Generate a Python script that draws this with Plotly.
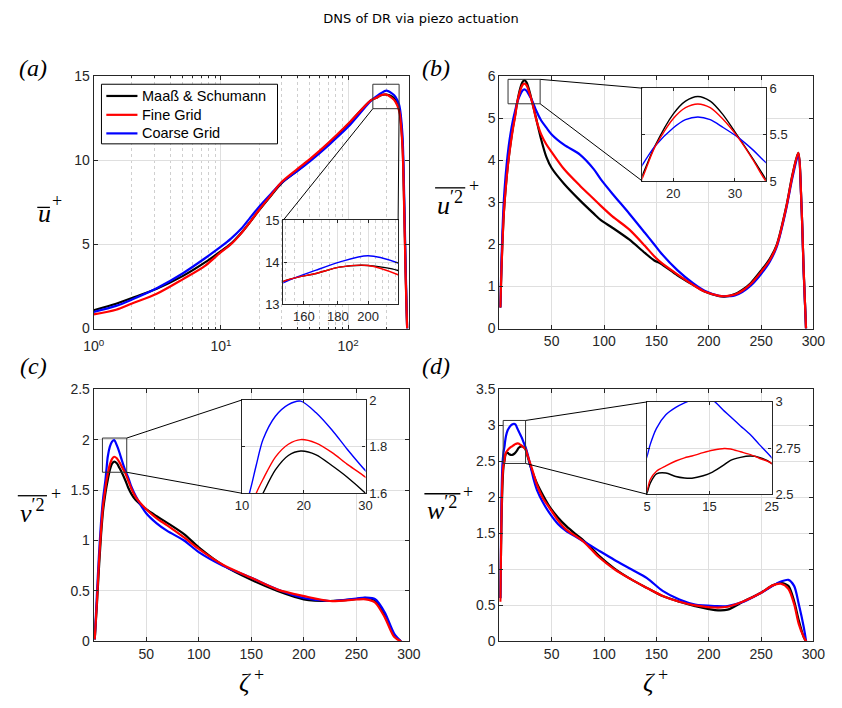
import math
import plotly.graph_objects as go

W, H = 842, 708

# ---------------- data ----------------
series_names = ["Maaß & Schumann", "Fine Grid", "Coarse Grid"]
series_colors = ["#000000", "#ff0000", "#0000ff"]

# (a) mean streamwise velocity u+ vs zeta+
zeta_a = [1, 1.5, 2, 3.13, 5, 7.55, 10, 12, 14.5, 17, 20, 25, 30, 40, 50, 70, 100, 150, 167, 181, 200,
          222, 235, 252, 267, 276, 283, 288, 291]
u_black = [1.09, 1.48, 1.82, 2.37, 3.12, 3.95, 4.6, 5.05, 5.7, 6.35, 7.05, 7.95, 8.65, 9.4, 10.0, 11.0,
           12.15, 13.56, 13.73, 13.88, 13.92, 13.8, 13.6, 13.06, 11.1, 7.25, 3.4, 1.2, 0]
u_red = [0.85, 1.12, 1.49, 2.07, 2.93, 3.75, 4.55, 5.02, 5.68, 6.35, 7.07, 7.98, 8.72, 9.5, 10.08, 11.05,
         12.18, 13.56, 13.73, 13.88, 13.92, 13.7, 13.5, 12.95, 10.9, 7.0, 3.2, 1.1, 0]
u_blue = [0.99, 1.35, 1.73, 2.4, 3.28, 4.2, 4.87, 5.35, 5.95, 6.6, 7.25, 8.05, 8.68, 9.38, 9.95, 10.9,
          12.0, 13.53, 13.81, 14.0, 14.15, 13.98, 13.8, 13.3, 11.6, 7.8, 3.8, 1.4, 0]

# (b) u'^2+
zeta_b = [1, 2, 3, 4, 5, 7, 9, 11, 13, 15, 17, 20, 22, 24, 26, 28, 30.5, 33, 35, 40, 45, 50, 62, 77, 90,
          97, 108, 124, 139, 148, 154, 170, 185, 196, 210, 215, 225, 232, 240, 250, 258, 265, 274, 280,
          285.5, 288.6, 290.7, 292.9]
uu_black = [0.5, 1.35, 2.05, 2.6, 3.0, 3.6, 4.07, 4.45, 4.78, 5.06, 5.37, 5.72, 5.86, 5.91, 5.86, 5.72,
            5.48, 5.23, 5.02, 4.5, 4.08, 3.82, 3.44, 3.05, 2.74, 2.58, 2.40, 2.12, 1.8, 1.62, 1.55, 1.27,
            1.04, 0.88, 0.77, 0.76, 0.82, 0.92, 1.08, 1.38, 1.65, 2.0, 2.9, 3.67, 4.18, 2.9, 1.35, 0]
uu_red = [0.5, 1.35, 2.0, 2.58, 2.98, 3.58, 4.05, 4.42, 4.75, 5.03, 5.36, 5.67, 5.79, 5.83, 5.79, 5.67,
          5.47, 5.22, 5.0, 4.62, 4.38, 4.2, 3.79, 3.40, 3.09, 2.92, 2.67, 2.36, 1.97, 1.72, 1.58, 1.29,
          1.04, 0.88, 0.78, 0.77, 0.81, 0.9, 1.06, 1.35, 1.62, 1.98, 2.88, 3.65, 4.18, 2.9, 1.35, 0]
uu_blue = [0.5, 1.55, 2.3, 2.9, 3.3, 3.9, 4.35, 4.68, 4.95, 5.17, 5.37, 5.57, 5.66, 5.69, 5.66, 5.58,
           5.47, 5.33, 5.2, 4.95, 4.78, 4.62, 4.37, 4.14, 3.8, 3.55, 3.21, 2.74, 2.28, 2.0, 1.81, 1.39,
           1.08, 0.9, 0.78, 0.77, 0.79, 0.87, 1.02, 1.3, 1.58, 1.95, 2.85, 3.6, 4.12, 2.9, 1.3, 0]

# (c) v'^2+
zeta_c = [1, 3, 5, 7, 9, 11.2, 12.3, 13.4, 15.4, 17.5, 19.5, 22, 24.6, 27, 30, 33, 36, 40, 50, 60, 70,
          86, 100, 123, 150, 175, 200, 225, 250, 259, 268, 277, 286, 292.5]
vv_black = [0.02, 0.35, 0.72, 1.05, 1.3, 1.47, 1.54, 1.6, 1.70, 1.762, 1.781, 1.765, 1.718, 1.67, 1.60,
            1.52, 1.46, 1.40, 1.31, 1.24, 1.175, 1.063, 0.933, 0.756, 0.61, 0.50, 0.417, 0.40, 0.42,
            0.43, 0.405, 0.265, 0.06, 0]
vv_red = [0.02, 0.38, 0.78, 1.1, 1.35, 1.52, 1.6, 1.66, 1.755, 1.81, 1.83, 1.815, 1.774, 1.725, 1.669,
          1.59, 1.51, 1.43, 1.31, 1.22, 1.15, 1.03, 0.917, 0.76, 0.63, 0.513, 0.449, 0.40, 0.415, 0.417,
          0.385, 0.24, 0.045, 0]
vv_blue = [0.02, 0.45, 0.85, 1.18, 1.42, 1.6, 1.72, 1.83, 1.93, 1.98, 1.995, 1.945, 1.87, 1.79, 1.697,
           1.62, 1.53, 1.44, 1.27, 1.17, 1.095, 1.0, 0.885, 0.75, 0.63, 0.515, 0.43, 0.40, 0.425, 0.433,
           0.417, 0.288, 0.078, 0]

# (d) w'^2+
zeta_d = [1, 2, 3, 4, 5, 5.5, 6.5, 8, 9.6, 11, 12.2, 14, 15.5, 17.4, 18.4, 20, 21.6, 23, 25, 27, 30, 33,
          36, 42, 48, 56, 64, 72, 79, 87, 95, 110, 126, 141, 156, 172, 187, 206, 218, 234, 250, 261,
          269, 276, 281.5, 286, 290.7, 293]
ww_black = [0.6, 1.6, 2.15, 2.42, 2.508, 2.56, 2.61, 2.615, 2.596, 2.588, 2.587, 2.6, 2.62, 2.66, 2.684,
            2.70, 2.707, 2.70, 2.667, 2.57, 2.42, 2.3, 2.19, 2.02, 1.87, 1.72, 1.60, 1.5, 1.42, 1.31,
            1.19, 1.01, 0.86, 0.742, 0.628, 0.55, 0.49, 0.434, 0.44, 0.56, 0.674, 0.777, 0.81, 0.77,
            0.56, 0.29, 0.06, 0]
ww_red = [0.55, 1.65, 2.25, 2.45, 2.522, 2.58, 2.625, 2.654, 2.68, 2.697, 2.707, 2.725, 2.738, 2.748,
          2.745, 2.73, 2.715, 2.695, 2.667, 2.58, 2.45, 2.31, 2.17, 1.98, 1.85, 1.68, 1.55, 1.47, 1.40,
          1.29, 1.17, 1.0, 0.86, 0.74, 0.63, 0.55, 0.50, 0.47, 0.48, 0.56, 0.674, 0.777, 0.80, 0.73,
          0.52, 0.24, 0.06, 0]
ww_blue = [0.6, 1.9, 2.45, 2.62, 2.707, 2.77, 2.857, 2.93, 2.97, 2.995, 3.01, 3.02, 3.01, 2.95, 2.919,
           2.87, 2.822, 2.77, 2.698, 2.6, 2.42, 2.24, 2.10, 1.92, 1.78, 1.63, 1.53, 1.46, 1.40, 1.33,
           1.26, 1.13, 1.0, 0.877, 0.70, 0.58, 0.51, 0.49, 0.49, 0.555, 0.674, 0.77, 0.83, 0.854, 0.77,
           0.515, 0.20, 0]

# tick labels
log_tickvals = [1, 10, 100]
log_ticktext = ["10<sup>0</sup>", "10<sup>1</sup>", "10<sup>2</sup>"]
lin_tickvals = [50, 100, 150, 200, 250, 300]

title_text = "DNS of DR via piezo actuation"

# ---------------- helpers ----------------
def px(x):
    return x / W

def py(y):
    return 1 - y / H

AX = "#262626"
GRID = "#dfdfdf"
MINORGRID = "#cfcfcf"
SANS = "Liberation Sans, Arial, sans-serif"
TICKFONT = dict(family=SANS, size=14, color=AX)
INSETFONT = dict(family=SANS, size=13, color=AX)

fig = go.Figure()

panels = [
    ("x", "y", zeta_a, [u_black, u_red, u_blue]),
    ("x2", "y2", zeta_b, [uu_black, uu_red, uu_blue]),
    ("x3", "y3", zeta_c, [vv_black, vv_red, vv_blue]),
    ("x4", "y4", zeta_d, [ww_black, ww_red, ww_blue]),
]
insets = ["x5", "x6", "x7", "x8"]
draw_order = [0, 2, 1]  # black, blue, red on top

for p, (xa, ya, zz, ys) in enumerate(panels):
    for k in draw_order:
        fig.add_trace(go.Scatter(
            x=zz, y=ys[k], xaxis=xa, yaxis=ya, mode="lines",
            line=dict(color=series_colors[k], width=2.2, shape="spline", smoothing=0.8),
            name=series_names[k], legendgroup=series_names[k],
            showlegend=False, hoverinfo="skip"))
    ix = insets[p]
    iy = "y" + ix[1:]
    for k in draw_order:
        fig.add_trace(go.Scatter(
            x=zz, y=ys[k], xaxis=ix, yaxis=iy, mode="lines",
            line=dict(color=series_colors[k], width=1.4, shape="spline", smoothing=0.8),
            name=series_names[k], showlegend=False, hoverinfo="skip"))

def main_axis(domain, **kw):
    d = dict(domain=domain, showline=True, linecolor=AX, linewidth=1, mirror="allticks",
             ticks="inside", ticklen=4, tickcolor=AX, showgrid=True, gridcolor=GRID, gridwidth=1,
             zeroline=False, tickfont=TICKFONT, fixedrange=True)
    d.update(kw)
    return d

def inset_axis(domain, anchor, **kw):
    d = dict(domain=domain, anchor=anchor, showline=True, linecolor=AX, linewidth=1.3,
             mirror="allticks", ticks="inside", ticklen=3, tickcolor=AX, showgrid=True,
             gridcolor=GRID, gridwidth=1, zeroline=False, tickfont=INSETFONT, fixedrange=True)
    d.update(kw)
    return d

xa_dom = [px(85), px(409)]
xb_dom = [px(502), px(825)]
top_dom = [py(328), py(70)]
bot_dom = [py(648), py(390)]

minor_log = [2, 3, 4, 5, 6, 7, 8, 9, 20, 30, 40, 50, 60, 70, 80, 90, 200]

fig.update_layout(
    width=W, height=H, autosize=False,
    margin=dict(l=0, r=0, t=0, b=0),
    paper_bgcolor="white", plot_bgcolor="white",
    title=dict(text=title_text, x=0.5, xanchor="center", y=py(18), yanchor="middle",
               font=dict(family="DejaVu Sans, sans-serif", size=13, color="#000000")),
    showlegend=False,
    xaxis=main_axis(xa_dom, anchor="y", type="log", range=[0, math.log10(300)],
                    tickvals=log_tickvals, ticktext=log_ticktext, ticklabelstandoff=5,
                    minor=dict(tickvals=minor_log, showgrid=True, gridcolor=MINORGRID,
                               griddash="dot", ticks="inside", ticklen=2, tickcolor=AX)),
    yaxis=main_axis(top_dom, anchor="x", range=[0, 15], tickvals=[0, 5, 10, 15]),
    xaxis2=main_axis(xb_dom, anchor="y2", range=[0, 300], tickvals=lin_tickvals),
    yaxis2=main_axis(top_dom, anchor="x2", range=[0, 6], tickvals=[0, 1, 2, 3, 4, 5, 6]),
    xaxis3=main_axis(xa_dom, anchor="y3", range=[0, 300], tickvals=lin_tickvals),
    yaxis3=main_axis(bot_dom, anchor="x3", range=[0, 2.5],
                     tickvals=[0, 0.5, 1, 1.5, 2, 2.5], ticktext=["0", "0.5", "1", "1.5", "2", "2.5"]),
    xaxis4=main_axis(xb_dom, anchor="y4", range=[0, 300], tickvals=lin_tickvals),
    yaxis4=main_axis(bot_dom, anchor="x4", range=[0, 3.5],
                     tickvals=[0, 0.5, 1, 1.5, 2, 2.5, 3, 3.5],
                     ticktext=["0", "0.5", "1", "1.5", "2", "2.5", "3", "3.5"]),
    # insets
    xaxis5=inset_axis([px(280), px(398)], "y5", type="log",
                      range=[math.log10(149), math.log10(222)], tickvals=[160, 180, 200],
                      ticktext=["160", "180", "200"],
                      minor=dict(tickvals=[150, 155, 165, 170, 175, 185, 190, 195, 205, 210, 215, 220],
                                 showgrid=True, gridcolor=MINORGRID, griddash="dot")),
    yaxis5=inset_axis([py(303), py(217)], "x5", range=[13, 15], tickvals=[13, 14, 15]),
    xaxis6=inset_axis([px(649), px(776)], "y6", range=[15, 35], tickvals=[20, 30]),
    yaxis6=inset_axis([py(177), py(82)], "x6", range=[5, 6], tickvals=[5, 5.5, 6], side="right"),
    xaxis7=inset_axis([px(237.5), px(364.5)], "y7", range=[10, 30], tickvals=[10, 20, 30]),
    yaxis7=inset_axis([py(496.5), py(401)], "x7", range=[1.6, 2.0], tickvals=[1.6, 1.8, 2.0],
                      ticktext=["1.6", "1.8", "2"], side="right"),
    xaxis8=inset_axis([px(654), px(782)], "y8", range=[5, 25], tickvals=[5, 15, 25]),
    yaxis8=inset_axis([py(497.5), py(403)], "x8", range=[2.5, 3.0], tickvals=[2.5, 2.75, 3.0],
                      ticktext=["2.5", "2.75", "3"], side="right"),
)

shapes = []
def pline(x0, y0, x1, y1, w=1, c="#000000"):
    shapes.append(dict(type="line", xref="paper", yref="paper", x0=px(x0), y0=py(y0),
                       x1=px(x1), y1=py(y1), line=dict(color=c, width=w), layer="above"))

def prect(x0, y0, x1, y1, fill=None, c="#333333"):
    d = dict(type="rect", xref="paper", yref="paper", x0=px(x0), y0=py(y0),
             x1=px(x1), y1=py(y1), line=dict(color=c, width=1), layer="above")
    if fill:
        d["fillcolor"] = fill
    shapes.append(d)

# zoom boxes and connectors
prect(372, 78, 399, 103); pline(372, 103, 280, 217); pline(399, 103, 398, 217)
prect(511, 73, 544, 98); pline(544, 73, 649, 82); pline(544, 98, 649, 177)
prect(94, 440, 119, 475); pline(119, 440, 237.5, 401); pline(119, 475, 237.5, 496.5)
prect(506, 422, 529, 466); pline(529, 422, 654, 403); pline(529, 466, 654, 497.5)

# overlines of axis labels
pline(27, 204, 40, 204, w=1.3)
pline(436, 184, 467, 184, w=1.3)
pline(7, 499, 37, 499, w=1.3)
pline(425, 497, 462, 497, w=1.3)

SERIF = "Liberation Serif, Times New Roman, serif"
annots = []
def label(text, x, y, size=24, xanchor="center", family=SERIF, color="#000000"):
    annots.append(dict(text=text, x=px(x), y=py(y), xref="paper", yref="paper", showarrow=False,
                       xanchor=xanchor, yanchor="middle",
                       font=dict(family=family, size=size, color=color)))

# legend box for panel (a)
prect(93, 78, 274, 139, fill="white", c="#000000")
legend_rows = [90, 109.3, 128.3]
for k in range(3):
    pline(98, legend_rows[k], 130, legend_rows[k], w=2.2, c=series_colors[k])
    label(series_names[k], 133, legend_rows[k], size=14.5, xanchor="left", family=SANS)

fig.update_layout(shapes=shapes)

label("<i>(a)</i>", 23, 61)
label("<i>(b)</i>", 437, 61)
label("<i>(c)</i>", 23, 366)
label("<i>(d)</i>", 437, 366)

label("<i>u</i>", 34, 210, size=26)
label("+", 47, 197, size=18)
label("<i>u</i><sup>′2</sup>", 451, 200, size=26)
label("+", 476, 182, size=18)
label("<i>v</i><sup>′2</sup>", 22, 515, size=26)
label("+", 46, 497, size=18)
label("<i>w</i><sup>′2</sup>", 443, 512, size=26)
label("+", 470, 495, size=18)
label("<i>ζ</i>", 241, 690, size=26)
label("+", 255, 682, size=18)
label("<i>ζ</i>", 656, 690, size=26)
label("+", 670, 682, size=18)
fig.update_layout(annotations=annots)

fig.write_html("out.html")
